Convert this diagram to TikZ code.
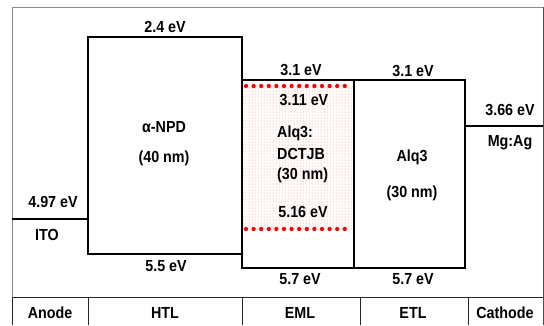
\documentclass[tikz,border=0pt]{standalone}
\usepackage{fontspec}
\setmainfont{Liberation Sans}
\usetikzlibrary{patterns}
\begin{document}
\begin{tikzpicture}[x=1pt,y=-1pt,
  lbl/.style={font=\fontsize{14.3}{16}\selectfont\bfseries, inner sep=0pt, anchor=center, yscale=1.12},
  lbll/.style={lbl, anchor=west},
  level/.style={line width=1.8pt, black},
  grid/.style={line width=0.9pt, black!85},
  frame/.style={line width=1pt, black!45},
  reddots/.style={red, line width=4.3pt, line cap=round, dash pattern=on 0pt off 7.6pt}]
\useasboundingbox (0,0) rectangle (544,325);
% frame
\draw[frame] (12,297) -- (12,7) -- (543,7);
\draw[line width=1pt, black!70] (543,7) -- (543,325);
% EML fill
\fill[pattern=dots, pattern color=red!55] (242,86) rectangle (354,229);
% HTL box
\draw[level] (88,37) rectangle (242,254);
% EML / ETL boxes
\draw[level] (242,80) rectangle (354,268);
\draw[level] (354,80) rectangle (465,268);
% electrode levels
\draw[level] (12,219) -- (88,219);
\draw[level] (465,126) -- (543,126);
% red dotted levels
\draw[reddots] (246,86) -- (352,86);
\draw[reddots] (246,229) -- (352,229);
% table
\draw[grid] (12,297) -- (543,297);
\draw[grid] (12,297) -- (12,325);
\draw[grid] (88,297) -- (88,325);
\draw[grid] (242,297) -- (242,325);
\draw[grid] (360,297) -- (360,325);
\draw[grid] (468,297) -- (468,325);
% labels
\node[lbl] (htlup) at (165,27) {2.4 eV};
\node[lbl] (npd) at (164,127) {α-NPD};
\node[lbl] (npdt) at (164,158) {(40 nm)};
\node[lbl] (htllo) at (166,266) {5.5 eV};
\node[lbl] (itoe) at (53,202) {4.97 eV};
\node[lbl] (ito) at (47,235) {ITO};
\node[lbl] (emlup) at (301,70) {3.1 eV};
\node[lbl] (dopup) at (304,100) {3.11 eV};
\node[lbll] (emla) at (277,133) {Alq3:};
\node[lbll] (emlb) at (277,154) {DCTJB};
\node[lbll] (emlc) at (277,175) {(30 nm)};
\node[lbl] (doplo) at (303,212) {5.16 eV};
\node[lbl] (emllo) at (300,279) {5.7 eV};
\node[lbl] (etlup) at (413,71) {3.1 eV};
\node[lbl] (etla) at (412,157) {Alq3};
\node[lbl] (etlb) at (412,193) {(30 nm)};
\node[lbl] (etllo) at (413,279) {5.7 eV};
\node[lbl] (cate) at (510,110) {3.66 eV};
\node[lbl] (cat) at (510,143) {Mg:Ag};
\node[lbl] (tanode) at (50,313) {Anode};
\node[lbl] (thtl) at (165,313) {HTL};
\node[lbl] (teml) at (300,313) {EML};
\node[lbl] (tetl) at (413,313) {ETL};
\node[lbl] (tcat) at (505,313) {Cathode};
\end{tikzpicture}
\end{document}
